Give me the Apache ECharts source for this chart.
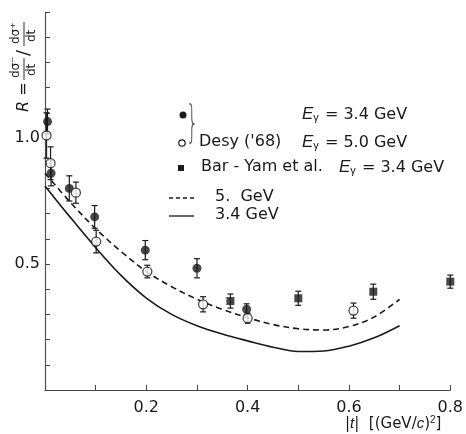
<!DOCTYPE html>
<html>
<head>
<meta charset="utf-8">
<script src="https://cdn.jsdelivr.net/npm/echarts@6/dist/echarts.min.js"></script>
<style>
  html, body { margin: 0; padding: 0; background: #fff; }
  #chart { width: 466px; height: 434px; }
</style>
</head>
<body>
<div id="chart"></div>
<script>
// Desy ('68) E=3.4 GeV, filled circles
const desy34T = [0.005, 0.012, 0.048, 0.098, 0.198, 0.300, 0.398];
const desy34R = [1.065, 0.860, 0.800, 0.687, 0.555, 0.483, 0.320];
const desy34E = [0.050, 0.050, 0.050, 0.045, 0.038, 0.038, 0.022];

// Desy ('68) E=5.0 GeV, open circles
const desy50T = [0.003, 0.011, 0.061, 0.101, 0.202, 0.312, 0.400, 0.609];
const desy50R = [1.010, 0.900, 0.783, 0.589, 0.470, 0.340, 0.285, 0.315];
const desy50E = [0.090, 0.065, 0.042, 0.045, 0.025, 0.030, 0.020, 0.030];

// Bar-Yam et al. E=3.4 GeV, filled squares
const barYamT = [0.366, 0.500, 0.648, 0.800];
const barYamR = [0.353, 0.364, 0.390, 0.430];
const barYamE = [0.028, 0.028, 0.030, 0.026];

// model curves
const curveT = [0, 0.05, 0.1, 0.15, 0.2, 0.25, 0.3, 0.35, 0.4, 0.45, 0.5, 0.55, 0.6, 0.65, 0.7];
const curve50 = [0.860, 0.745, 0.640, 0.550, 0.470, 0.410, 0.360, 0.320, 0.287, 0.260, 0.243, 0.238, 0.252, 0.290, 0.360];
const curve34 = [0.810, 0.685, 0.565, 0.455, 0.365, 0.300, 0.255, 0.222, 0.195, 0.170, 0.153, 0.155, 0.174, 0.207, 0.255];

const xLabels = ['0.2', '0.4', '0.6', '0.8'];
const yLabels = ['0.5', '1.0'];

const ink = '#1a1a1a';
const font = 'DejaVu Sans';

function pts(t, r) { return t.map((v, i) => [v, r[i]]); }
function errs(t, r, e) { return t.map((v, i) => [v, r[i], e[i]]); }

function errorBars(data) {
  return {
    type: 'custom',
    silent: true,
    clip: false,
    z: 3,
    data: data,
    renderItem: function (params, api) {
      const t = api.value(0), r = api.value(1), e = api.value(2);
      const hi = api.coord([t, r + e]);
      const lo = api.coord([t, r - e]);
      const c = 3;
      const st = { stroke: ink, lineWidth: 1.2 };
      return {
        type: 'group',
        children: [
          { type: 'line', shape: { x1: hi[0], y1: hi[1], x2: lo[0], y2: lo[1] }, style: st },
          { type: 'line', shape: { x1: hi[0] - c, y1: hi[1], x2: hi[0] + c, y2: hi[1] }, style: st },
          { type: 'line', shape: { x1: lo[0] - c, y1: lo[1], x2: lo[0] + c, y2: lo[1] }, style: st }
        ]
      };
    }
  };
}

const chart = echarts.init(document.getElementById('chart'));

const sub = { e: { fontStyle: 'italic', fontSize: 17 }, s: { fontSize: 11, verticalAlign: 'bottom', padding: [6, 1, 0, 0] } };

const option = {
  backgroundColor: '#fff',
  animation: false,
  grid: { left: 45, right: 9, top: 12, bottom: 44 },
  xAxis: {
    type: 'value',
    min: 0,
    max: 0.8,
    interval: 0.1,
    axisLine: { lineStyle: { color: '#444', width: 1.2 } },
    axisTick: { inside: true, length: 5, lineStyle: { color: '#444' } },
    splitLine: { show: false },
    axisLabel: {
      color: ink, fontFamily: font, fontSize: 16, margin: 10,
      formatter: function (v) {
        const s = v.toFixed(1);
        return xLabels.indexOf(s) >= 0 ? s : '';
      }
    }
  },
  yAxis: {
    type: 'value',
    min: 0,
    max: 1.5,
    interval: 0.1,
    axisLine: { show: true, lineStyle: { color: '#555', width: 1.2 } },
    axisTick: { show: true, inside: true, length: 5, lineStyle: { color: '#444' } },
    splitLine: { show: false },
    axisLabel: {
      color: ink, fontFamily: font, fontSize: 16, margin: 5,
      formatter: function (v) {
        const s = v.toFixed(1);
        return yLabels.indexOf(s) >= 0 ? s : '';
      }
    }
  },
  series: [
    {
      name: '5. GeV', type: 'line', smooth: 0.35, symbol: 'none', z: 2,
      lineStyle: { color: ink, width: 1.6, type: [6, 4] },
      data: pts(curveT, curve50)
    },
    {
      name: '3.4GeV', type: 'line', smooth: 0.35, symbol: 'none', z: 2,
      lineStyle: { color: ink, width: 1.6 },
      data: pts(curveT, curve34)
    },
    errorBars(errs(desy34T, desy34R, desy34E)),
    errorBars(errs(desy50T, desy50R, desy50E)),
    errorBars(errs(barYamT, barYamR, barYamE)),
    {
      name: 'Desy 3.4', type: 'scatter', symbol: 'circle', symbolSize: 9, z: 4, clip: false,
      itemStyle: { color: ink },
      data: pts(desy34T, desy34R)
    },
    {
      name: 'Desy 5.0', type: 'scatter', symbol: 'circle', symbolSize: 9, z: 4, clip: false,
      itemStyle: { color: '#fff', borderColor: ink, borderWidth: 1.3 },
      data: pts(desy50T, desy50R)
    },
    {
      name: 'Bar-Yam', type: 'scatter', symbol: 'rect', symbolSize: 8, z: 4, clip: false,
      itemStyle: { color: ink },
      data: pts(barYamT, barYamR)
    }
  ],
  graphic: [
    // legend markers
    { type: 'circle', shape: { cx: 183, cy: 115, r: 3.5 }, style: { fill: ink } },
    { type: 'circle', shape: { cx: 182, cy: 143, r: 3.2 }, style: { fill: '#fff', stroke: ink, lineWidth: 1.2 } },
    { type: 'rect', shape: { x: 178, y: 165, width: 6, height: 6 }, style: { fill: ink } },
    { type: 'text', x: 186, y: 104, style: { text: '}', font: '100 44px "DejaVu Sans"', fill: '#555' }, scaleX: 0.45 },
    { type: 'text', left: 302, top: 106, style: { text: '{e|E}{s|γ} = 3.4 GeV', font: '16px "DejaVu Sans"', fill: ink, rich: sub } },
    { type: 'text', left: 199, top: 134, style: { text: "Desy ('68)", font: '16px "DejaVu Sans"', fill: ink } },
    { type: 'text', left: 302, top: 134, style: { text: '{e|E}{s|γ} = 5.0 GeV', font: '16px "DejaVu Sans"', fill: ink, rich: sub } },
    { type: 'text', left: 201, top: 159, style: { text: 'Bar - Yam et al.', font: '16px "DejaVu Sans"', fill: ink } },
    { type: 'text', left: 339, top: 159, style: { text: '{e|E}{s|γ} = 3.4 GeV', font: '16px "DejaVu Sans"', fill: ink, rich: sub } },
    { type: 'line', shape: { x1: 169, y1: 198, x2: 194, y2: 198 }, style: { stroke: ink, lineWidth: 1.3, lineDash: [4, 3] } },
    { type: 'text', left: 215, top: 189, style: { text: '5.  GeV', font: '16px "DejaVu Sans"', fill: ink } },
    { type: 'line', shape: { x1: 169, y1: 216, x2: 194, y2: 216 }, style: { stroke: ink, lineWidth: 1.3 } },
    { type: 'text', left: 215, top: 207, style: { text: '3.4 GeV', font: '16px "DejaVu Sans"', fill: ink } },
    // x axis name
    {
      type: 'text', left: 345, top: 415,
      style: {
        text: '|{i|t}|  [(GeV/{i|c}){p|2}]', font: '15px "DejaVu Sans"', fill: ink,
        rich: { i: { fontStyle: 'italic', fontSize: 15 }, p: { fontSize: 10, verticalAlign: 'top', padding: [0, 0, 8, 0] } }
      }
    },
    // y axis name, rotated
    {
      type: 'group', x: 24, y: 66, rotation: Math.PI / 2,
      children: [
        { type: 'text', x: -46, y: 0, style: { text: 'R =', font: 'italic 16px "DejaVu Sans"', fill: ink, verticalAlign: 'middle' } },
        { type: 'text', x: -12, y: -8, style: { text: 'dσ⁻', font: '12px "DejaVu Sans"', fill: ink, verticalAlign: 'middle' } },
        { type: 'line', shape: { x1: -14, y1: 0, x2: 8, y2: 0 }, style: { stroke: ink, lineWidth: 0.9 } },
        { type: 'text', x: -10, y: 8, style: { text: 'dt', font: '12px "DejaVu Sans"', fill: ink, verticalAlign: 'middle' } },
        { type: 'text', x: 10, y: 0, style: { text: '/', font: '18px "DejaVu Sans"', fill: ink, verticalAlign: 'middle' } },
        { type: 'text', x: 22, y: -8, style: { text: 'dσ⁺', font: '12px "DejaVu Sans"', fill: ink, verticalAlign: 'middle' } },
        { type: 'line', shape: { x1: 20, y1: 0, x2: 44, y2: 0 }, style: { stroke: ink, lineWidth: 0.9 } },
        { type: 'text', x: 24, y: 8, style: { text: 'dt', font: '12px "DejaVu Sans"', fill: ink, verticalAlign: 'middle' } }
      ]
    }
  ]
};

chart.setOption(option);
</script>
</body>
</html>
